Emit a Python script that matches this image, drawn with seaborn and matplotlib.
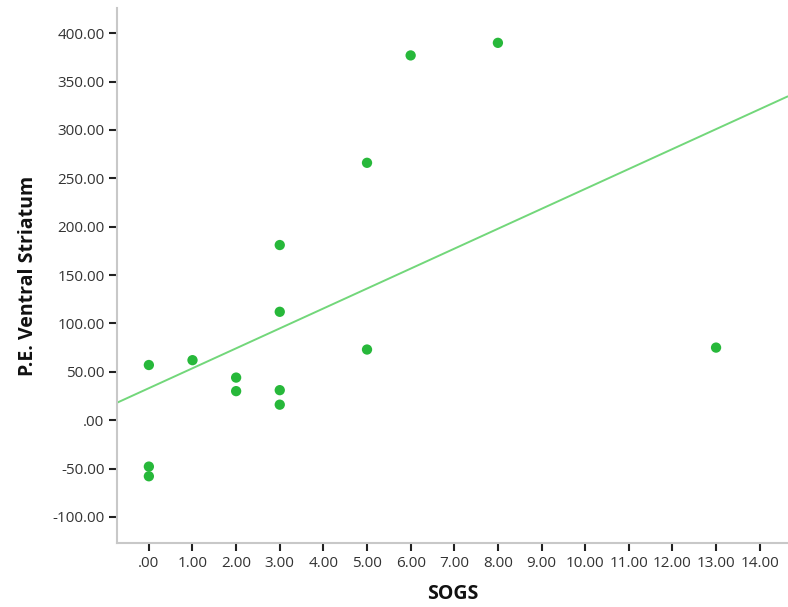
import numpy as np
import pandas as pd
import seaborn as sns
import matplotlib.pyplot as plt

# valores
sogs = [0, 0, 0, 1, 2, 2, 3, 3, 3, 3, 5, 5, 6, 8, 13]
ventral_striatum = [57, -48, -58, 62, 44, 30, 181, 112, 31, 16, 266, 73, 377, 390, 75]
x_ticks = list(range(0, 15))
y_ticks = list(range(-100, 401, 50))

df = pd.DataFrame({"SOGS": sogs, "P.E. Ventral Striatum": ventral_striatum})

sns.set_style("white")
plt.rcParams["font.family"] = ["Open Sans", "DejaVu Sans"]

fig = plt.figure(figsize=(7.88, 6.07), dpi=100)
ax = fig.add_axes([0.1485, 0.1054, 0.851, 0.8814])

# limites antes do regplot para a reta cobrir o eixo todo
ax.set_xlim(-0.73, 14.64)
ax.set_ylim(-127, 426)

sns.regplot(x="SOGS", y="P.E. Ventral Striatum", data=df, ax=ax, ci=None, truncate=False,
            scatter_kws={"s": 55, "color": "#27b83a", "edgecolor": "none", "alpha": 1},
            line_kws={"color": "#72d77a", "linewidth": 1.4})

ax.set_xlim(-0.73, 14.64)
ax.set_ylim(-127, 426)
ax.set_xticks(x_ticks)
ax.set_yticks(y_ticks)
ax.set_xticklabels(["%.2f" % v if v != 0 else ".00" for v in x_ticks])
ax.set_yticklabels(["%.2f" % v if v != 0 else ".00" for v in y_ticks])

for s in ["top", "right"]:
    ax.spines[s].set_visible(False)
for s in ["left", "bottom"]:
    ax.spines[s].set_color("#c8c8c8")
    ax.spines[s].set_linewidth(1.5)

ax.tick_params(axis="both", direction="out", length=6, width=1.5, color="#222222",
               labelsize=11, labelcolor="#333333", pad=3, left=True, bottom=True)

ax.set_xlabel("SOGS", fontsize=14, fontweight="bold", color="#111111", labelpad=10)
ax.set_ylabel("P.E. Ventral Striatum", fontsize=14, fontweight="bold", color="#111111", labelpad=10)

plt.savefig("out.png", dpi=100)
